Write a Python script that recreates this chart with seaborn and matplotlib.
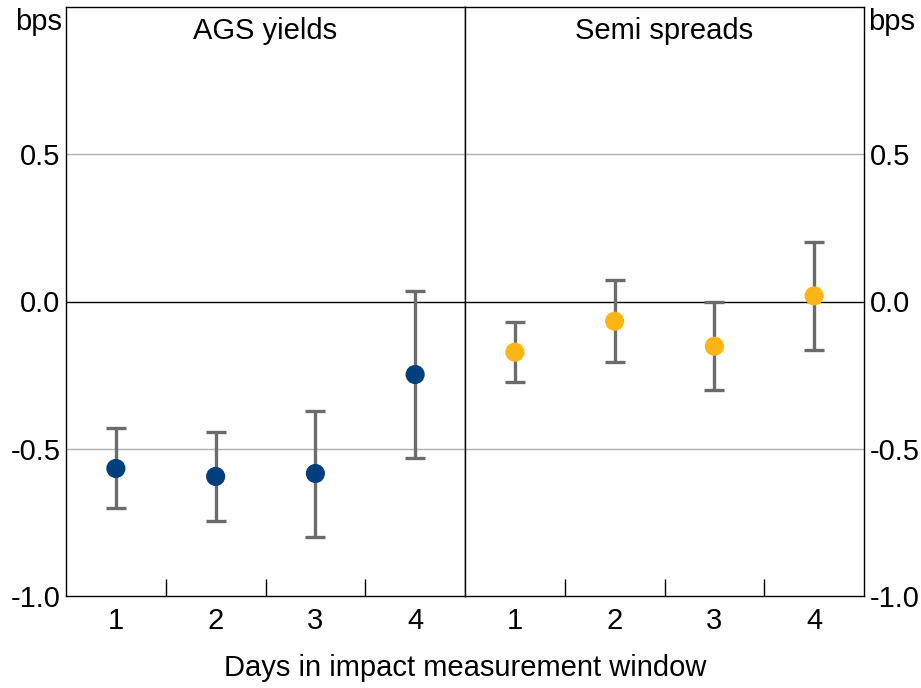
import matplotlib
matplotlib.use("Agg")
import matplotlib.pyplot as plt
import seaborn as sns
import pandas as pd
import numpy as np

days = ["1", "2", "3", "4"]
panels = ["AGS yields", "Semi spreads"]

ags_mid = [-0.567, -0.594, -0.584, -0.248]
ags_low = [-0.700, -0.746, -0.800, -0.533]
ags_high = [-0.431, -0.442, -0.371, 0.034]

semi_mid = [-0.172, -0.067, -0.152, 0.019]
semi_low = [-0.272, -0.204, -0.299, -0.163]
semi_high = [-0.068, 0.074, 0.000, 0.202]

colors = ["#003f7d", "#fdb515"]
yticks = [-1.0, -0.5, 0.0, 0.5]
ytick_labels = ["-1.0", "-0.5", "0.0", "0.5"]

sns.set_theme(style="white")
plt.rcParams["font.family"] = ["Liberation Sans", "DejaVu Sans"]
plt.rcParams["text.color"] = "black"
plt.rcParams["xtick.color"] = "black"
plt.rcParams["ytick.color"] = "black"
plt.rcParams["axes.labelcolor"] = "black"

FS = 21

fig, axes = plt.subplots(1, 2, figsize=(9.21, 6.88), dpi=100, sharey=True)
fig.subplots_adjust(left=66/921, right=864/921, top=1-7/688, bottom=1-596/688, wspace=0)

data = [(ags_mid, ags_low, ags_high), (semi_mid, semi_low, semi_high)]
for i, ax in enumerate(axes):
    mid, low, high = data[i]
    df = pd.DataFrame({"day": days, "mid": mid, "low": low, "high": high})
    x = np.arange(len(days))
    ax.axhline(0, color="black", lw=1, zorder=1)
    for g in [0.5, -0.5]:
        ax.axhline(g, color="#b0b0b0", lw=1, zorder=0)
    ax.errorbar(x, df["mid"], yerr=[df["mid"] - df["low"], df["high"] - df["mid"]],
                fmt="none", ecolor="#6b6b6b", elinewidth=2.4, capsize=7.5,
                capthick=2.4, zorder=2)
    sns.scatterplot(data=df, x="day", y="mid", ax=ax, color=colors[i], s=190,
                    edgecolor="none", zorder=3, legend=False)
    ax.set_xlim(-0.5, 3.5)
    ax.set_ylim(-1.0, 1.0)
    ax.set_xticks(x)
    ax.set_xticklabels(days, fontsize=FS, color="black")
    ax.set_xticks([0.5, 1.5, 2.5], minor=True)
    ax.tick_params(axis="x", which="major", length=0, pad=8)
    ax.tick_params(axis="x", which="minor", direction="in", length=12, width=1, color="black", bottom=True)
    ax.set_xlabel("")
    ax.set_ylabel("")
    ax.set_yticks(yticks)
    ax.set_yticklabels(ytick_labels, fontsize=FS, color="black")
    ax.tick_params(axis="y", length=0, pad=4)
    for s in ax.spines.values():
        s.set_color("black")
        s.set_linewidth(1)
    ax.text(0.5, 0.959, panels[i], transform=ax.transAxes, ha="center", va="center",
            fontsize=FS, color="black")

axes[1].yaxis.tick_right()
axes[1].tick_params(axis="y", labelright=True, labelleft=False, length=0, pad=4)
axes[0].text(-0.01, 0.998, "bps", transform=axes[0].transAxes, ha="right", va="top",
             fontsize=FS, color="black")
axes[1].text(1.01, 0.998, "bps", transform=axes[1].transAxes, ha="left", va="top",
             fontsize=FS, color="black")

fig.text((66+864)/2/921, 1-668/688, "Days in impact measurement window", ha="center",
         va="center", fontsize=FS, color="black")

fig.savefig("out.png", dpi=100)
